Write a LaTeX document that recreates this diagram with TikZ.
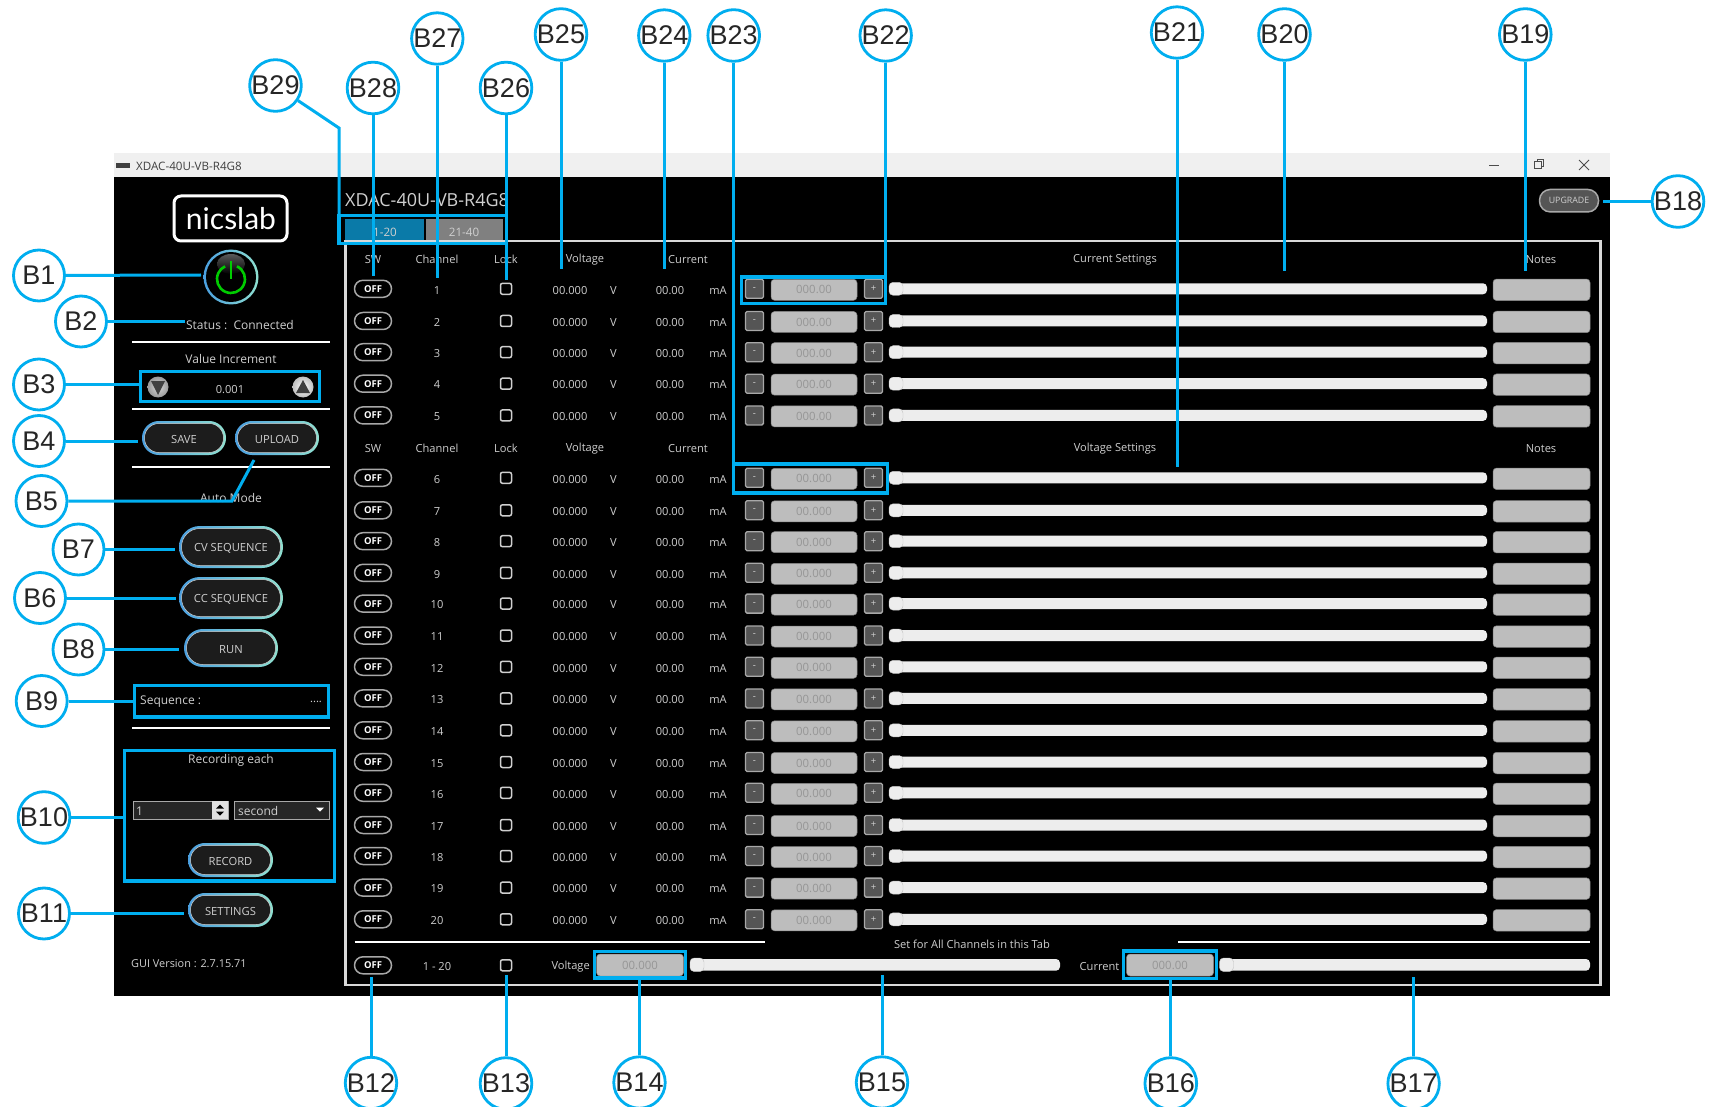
\documentclass[tikz,border=0pt]{standalone}
\usepackage{fontspec}
\setmainfont{Open Sans}
\newfontfamily\labfont{Liberation Sans}
\newfontfamily\logofont{Lato}
\usetikzlibrary{calc}
\definecolor{lead}{HTML}{00AEEF}
\definecolor{uitext}{HTML}{CFCFCF}
\definecolor{inputbg}{HTML}{BDBDBD}
\definecolor{inputtx}{HTML}{969696}
\definecolor{btnbg}{HTML}{555555}
\definecolor{btnline}{HTML}{A8A8A8}
\definecolor{trackbg}{HTML}{EDEDED}
\definecolor{ringa}{HTML}{4A9FE0}
\definecolor{ringb}{HTML}{8FE0D0}
\definecolor{pillbg}{HTML}{1C1C1C}
\definecolor{tabblue}{HTML}{0A7AA8}
\definecolor{spinbg}{HTML}{262626}
\newcommand{\fs}[1]{\fontsize{#1}{#1}\selectfont}
\tikzset{
  x=1pt,y=-1pt,
  callout/.style={circle,draw=lead,line width=2.8pt,fill=white,minimum size=51pt,inner sep=0pt,text=black!85,font=\labfont\fs{27}},
  leader/.style={draw=lead,line width=3pt},
  bluebox/.style={draw=lead,line width=3.2pt},
  ui/.style={text=uitext,font=\fs{11.1},inner sep=0pt,yshift=-1.3pt},
  side/.style={ui,font=\fs{12}},
  offpill/.style={draw=btnline,line width=1.5pt,fill=black,rounded corners=8.4pt,minimum width=37pt,minimum height=17pt,inner sep=0pt,text=white,font=\bfseries\fs{9.5}},
  chk/.style={draw=uitext,line width=1.5pt,rounded corners=2pt,minimum size=11pt,inner sep=0pt},
  stepbtn/.style={draw=btnline,fill=btnbg,line width=1.3pt,rounded corners=1.5pt,minimum width=18pt,minimum height=19pt,inner sep=0pt,text=uitext,font=\fs{9.5}},
  field/.style={fill=inputbg,draw=inputbg!70!black,line width=.5pt,rounded corners=3.5pt,inner sep=0pt,text=inputtx,font=\fs{11.4}},
  track/.style={fill=trackbg,rounded corners=4pt},
  thumb/.style={fill=trackbg,draw=black!25,line width=.4pt,rounded corners=4pt},
  sep/.style={draw=white,line width=2.6pt},
}
% pill button with gradient ring: name, x1, y1, x2, y2, text
\newcommand{\ringpill}[6]{%
  \pgfmathsetmacro{\rra}{(#5-#3)/2-.1}%
  \pgfmathsetmacro{\rrb}{(#5-#3)/2-2.6}%
  \shade[left color=ringa,right color=ringb,rounded corners=\rra pt] (#2,#3) rectangle (#4,#5);
  \draw[fill=pillbg,draw=uitext,line width=.5pt,rounded corners=\rrb pt] ($(#2,#3)+(2.5,2.5)$) rectangle ($(#4,#5)+(-2.5,-2.5)$);
  \node[ui,font=\fs{11.2}] (#1) at ($(#2,#3)!.5!(#4,#5)$) {#6};
}
\begin{document}
\begin{tikzpicture}
\useasboundingbox (0,0) rectangle (1714,1107);
\fill[white] (0,0) rectangle (1714,1107);
% window
\fill[black] (114,177) rectangle (1610,996);
\fill[black!6] (114,153) rectangle (1610,177);
\fill[black!75] (116,163) rectangle (130,168);
\node[anchor=west,inner sep=0pt,text=black!75,font=\fs{11.6},yshift=-1pt] (wintitle) at (136,165) {XDAC-40U-VB-R4G8};
\draw[black!70,line width=.9pt] (1489,165) -- (1499,165);
\draw[black!70,line width=.9pt] (1534.5,161.5) rectangle (1541.5,168.5);
\draw[black!70,line width=.9pt] (1537,161.5) -- (1537,159.5) -- (1543.5,159.5) -- (1543.5,166) -- (1541.5,166);
\draw[black!70,line width=.9pt] (1579,160) -- (1589,170) (1589,160) -- (1579,170);
% sidebar
\draw[white,line width=3pt,rounded corners=7pt] (174,196) rectangle (287,241);
\node[text=white,inner sep=0pt,font=\logofont\fs{30},yshift=-2pt] (logo) at (231,217) {nicslab};
\shade[left color=ringa,right color=ringb] (231,277) circle (27.5);
\fill[black] (231,277) circle (25);
\shade[top color=black!65,bottom color=black] (231,264) ellipse (14 and 10);
\begin{scope}[shift={(231,279)}]
\draw[green!80!black,line width=2.6pt,x=1pt,y=1pt] (65:14) arc[start angle=65,end angle=-245,radius=14pt];
\draw[green!80!black,line width=2.6pt,x=1pt,y=1pt] (0,18) -- (0,0);
\end{scope}
\coordinate (pwr) at (201,275);
\node[side] (status) at (240,324) {Status :\ \ Connected};
\draw[sep] (132,342) -- (330,342);
\node[side] (valinc) at (231,358) {Value Increment};
\shade[inner color=black!15,outer color=black!40] (158,387) circle (10.5);
\fill[black!75] (151,381) -- (165,381) -- (158,395) -- cycle;
\shade[inner color=white,outer color=black!25] (303,387) circle (10.5);
\fill[black!75] (296,393) -- (310,393) -- (303,380) -- cycle;
\node[ui] (incval) at (230,388) {0.001};
\draw[sep] (132,409) -- (330,409);
\ringpill{save}{142}{421}{226}{455}{SAVE}
\ringpill{upload}{235}{421}{319}{455}{UPLOAD}
\draw[sep] (132,467) -- (330,467);
\node[side] (auto) at (231,497) {Auto Mode};
\ringpill{cv}{179}{526}{283}{568}{CV SEQUENCE}
\ringpill{cc}{179}{577}{283}{619}{CC SEQUENCE}
\ringpill{run}{184}{629}{278}{667}{RUN}
\node[side,anchor=west] (seq) at (140,700) {Sequence :};
\node[ui] (seqdots) at (316,701) {....};
\draw[sep] (132,728) -- (330,728);
\node[side] (recla) at (231,759) {Recording each};
\draw[fill=spinbg,draw=btnline,line width=1pt] (133,801) rectangle (228,819);
\fill[black!12] (212,801) rectangle (228,819);
\fill[black] (220,804.5) -- (224,808.5) -- (216,808.5) -- cycle;
\fill[black] (220,815.5) -- (224,811.5) -- (216,811.5) -- cycle;
\node[side,anchor=west] (recn) at (136,810) {1};
\draw[fill=spinbg,draw=btnline,line width=1pt] (234,801) rectangle (329,819);
\fill[white] (316,807.5) -- (324,807.5) -- (320,811.5) -- cycle;
\node[side,anchor=west] (recu) at (238,810) {second};
\ringpill{record}{188}{843}{273}{877}{RECORD}
\ringpill{settings}{188}{893}{273}{927}{SETTINGS}
\node[ui,anchor=west,font=\fs{10.9}] (gui) at (131,962) {GUI Version : 2.7.15.71};
% main panel
\node[anchor=west,inner sep=0pt,text=uitext,font=\fs{18},yshift=-1pt] (title) at (345,199) {XDAC-40U-VB-R4G8};
\draw[white!85!black,line width=2.4pt] (345.5,241) rectangle (1600.5,985);
\fill[black] (340,230) rectangle (506,240);
\fill[tabblue] (345,219) rectangle (424,240.5);
\fill[black!50] (426,219) rectangle (503,240);
\node[ui,font=\fs{11.6}] (tab1) at (385,231) {1-20};
\node[ui,font=\fs{11.6}] (tab2) at (464,231) {21-40};
% headers
\foreach \hy/\hn/\htxt in {258/a/Current Settings,447/b/Voltage Settings}{
  \node[ui] (sw\hn) at (373,\hy) {SW};
  \node[ui] (ch\hn) at (437,\hy) {Channel};
  \node[ui] (lk\hn) at (506,\hy) {Lock};
  \node[ui] (vo\hn) at (585,\hy) {Voltage};
  \node[ui] (cu\hn) at (688,\hy) {Current};
  \node[ui] (se\hn) at (1115,\hy) {\htxt};
  \node[ui] (no\hn) at (1541,\hy) {Notes};
}
% rows
\foreach \i/\y/\v in {1/288.8/000.00,2/321/000.00,3/352.2/000.00,4/383.7/000.00,5/415.4/000.00,
  6/477.8/00.000,7/510.3/00.000,8/541.2/00.000,9/572.8/00.000,10/603.6/00.000,11/635.5/00.000,12/666.8/00.000,13/698.4/00.000,
  14/730.3/00.000,15/762/00.000,16/792.8/00.000,17/825/00.000,18/856/00.000,19/887.6/00.000,20/919.3/00.000}{
  \node[offpill] (off\i) at (373,\y) {OFF};
  \node[ui] (num\i) at (437,\y) {\i};
  \node[chk] (chk\i) at (506,\y) {};
  \node[ui] (vv\i) at (570,\y) {00.000};
  \node[ui] (vu\i) at (613.5,\y) {V};
  \node[ui] (cv\i) at (670,\y) {00.00};
  \node[ui] (cu\i) at (718,\y) {mA};
  \node[stepbtn] (mi\i) at (754.5,\y) {-};
  \node[field,minimum width=86pt,minimum height=21pt] (in\i) at (814,\y+1) {\v};
  \node[stepbtn] (pl\i) at (873.5,\y) {+};
  \fill[track] (889,\y-5.5) rectangle (1487,\y+5.5);
  \path[thumb] (889,\y-6.5) rectangle (903,\y+6.5);
  \node[field,minimum width=97pt,minimum height=21.5pt] (nt\i) at (1541.5,\y+1) {};
}
% all-channels row
\draw[sep] (354.5,942) -- (765,942);
\draw[sep] (1178,942) -- (1590,942);
\node[ui] (setall) at (972,943.5) {Set for All Channels in this Tab};
\node[offpill] (offall) at (373,965.3) {OFF};
\node[ui] (rng) at (437,965.3) {1 - 20};
\node[chk] (chkall) at (506,965.3) {};
\node[ui,anchor=east] (vall) at (590,965.3) {Voltage};
\node[field,minimum width=87pt,minimum height=22pt] (inv) at (640,965) {00.000};
\fill[track] (690,959) rectangle (1060,970.7);
\path[thumb] (690,958) rectangle (704,971.5);
\node[ui,anchor=east] (call) at (1119.5,965.3) {Current};
\node[field,minimum width=87pt,minimum height=22pt] (inc) at (1170,965) {000.00};
\fill[track] (1219.5,959) rectangle (1590,970.7);
\path[thumb] (1219.5,958) rectangle (1233.5,971.5);
% upgrade
\node[draw=btnline,fill=btnbg,line width=1.5pt,rounded corners=10.8pt,minimum width=59pt,minimum height=22.5pt,inner sep=0pt,text=uitext,font=\fs{8.8}] (upg) at (1569,200.7) {UPGRADE};
% highlight boxes
\draw[bluebox] (140.5,371.5) rectangle (319.2,401.5);
\draw[bluebox] (134.3,685.6) rectangle (328.5,717);
\draw[bluebox] (124.6,750.5) rectangle (334.5,881);
\draw[bluebox] (339,215.5) rectangle (506.8,243.2);
\draw[bluebox] (741.6,277) rectangle (885.7,303.5);
\draw[bluebox] (733.7,464) rectangle (887.5,493);
\draw[bluebox] (594.6,951.5) rectangle (685.4,978);
\draw[bluebox] (1123.4,951) rectangle (1216.5,978.5);
% callouts
\foreach \n/\x/\y in {1/39/275.5,2/81/321.5,3/39/384.5,4/39/441,5/41.5/501,6/40/598,7/78.5/549.5,8/78.5/649.5,9/41.7/701,10/44/817.5,11/44/913.5,
  12/371/1083,13/506/1083.5,14/639.5/1082.5,15/882/1082.5,16/1170.8/1083.5,17/1413.6/1083.5,18/1678/201.5,19/1525.3/34.5,20/1284.5/34.5,21/1177/32.5,
  22/885.7/35.5,23/733.7/35.5,24/664.3/35.5,25/561/34.5,26/506/88,27/437.3/38.5,28/373/88,29/275.5/85.5}{
  \node[callout] (B\n) at (\x,\y) {B\n};
}
% leader ends
\coordinate (e2) at (185,321.5);
\coordinate (e3) at (139,384.5);
\coordinate (e4) at (137.7,441);
\coordinate (c5) at (232,501);
\coordinate (e5) at (254,460);
\coordinate (e6) at (176,598);
\coordinate (e7) at (175,549.5);
\coordinate (e8) at (179,649.5);
\coordinate (e9) at (132.7,701);
\coordinate (e10) at (123,817.5);
\coordinate (e11) at (183.5,913.5);
\coordinate (e12) at (371,977);
\coordinate (e13) at (506,975);
\coordinate (e14) at (639.5,979.5);
\coordinate (e15) at (882,975);
\coordinate (e16) at (1170.8,980);
\coordinate (e17) at (1413.6,976.7);
\coordinate (e18) at (1603,201.5);
\coordinate (e19) at (1525.3,270.7);
\coordinate (e20) at (1284.5,271);
\coordinate (e21) at (1177,467);
\coordinate (e22) at (885.7,275.7);
\coordinate (e23) at (733.7,462.7);
\coordinate (e24) at (664.3,269.3);
\coordinate (e25) at (561,269);
\coordinate (e26) at (506,280);
\coordinate (e27) at (437.3,278);
\coordinate (e28) at (373,276);
\coordinate (c29) at (339,128);
\coordinate (e29) at (339,214);
\draw[leader] (B1) -- (pwr);
\foreach \n in {2,3,4,6,7,8,9,10,11,12,13,14,15,16,17,18,19,20,21,22,23,24,25,26,27,28}{
  \draw[leader] (B\n) -- (e\n);
}
\draw[leader] (B5) -- (c5) -- (e5);
\draw[leader] (B29) -- (c29) -- (e29);
\end{tikzpicture}
\end{document}
